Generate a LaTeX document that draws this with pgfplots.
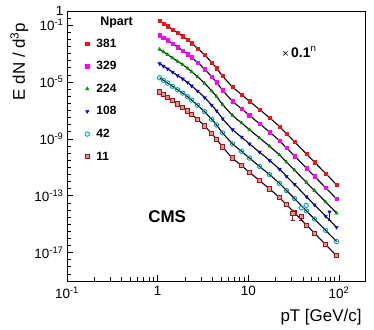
\documentclass[border=0pt]{standalone}
\usepackage{fontspec}
\setmainfont{Liberation Sans}
\usepackage{pgfplots}
\usepackage{pgfplotstable}
\pgfplotsset{compat=1.18}
\usetikzlibrary{calc}

\definecolor{cred}{RGB}{240,20,20}
\definecolor{cmag}{RGB}{255,0,255}
\definecolor{cgreen}{RGB}{0,150,0}
\definecolor{cblue}{RGB}{0,0,240}
\definecolor{ccyan}{RGB}{0,160,170}
\definecolor{cdred}{RGB}{160,20,20}

% charged hadron spectra, scaled by 0.1^n
\pgfplotstableread{
pt    a        b        c        d        e        f
1.05  2.00e-1  2.00e-2  2.00e-3  2.00e-4  2.00e-5  2.00e-6
1.16  1.32e-1  1.32e-2  1.32e-3  1.32e-4  1.32e-5  1.32e-6
1.29  8.51e-2  8.51e-3  8.51e-4  8.51e-5  8.51e-6  8.51e-7
1.46  5.01e-2  5.01e-3  5.01e-4  5.01e-5  5.01e-6  5.01e-7
1.66  2.88e-2  2.88e-3  2.88e-4  2.88e-5  2.88e-6  2.88e-7
1.89  1.66e-2  1.66e-3  1.66e-4  1.66e-5  1.66e-6  1.66e-7
2.14  9.33e-3  9.33e-4  9.33e-5  9.33e-6  9.33e-7  9.33e-8
2.37  5.37e-3  5.37e-4  5.37e-5  5.37e-6  5.37e-7  5.37e-8
2.76  2.34e-3  2.34e-4  2.34e-5  2.34e-6  2.34e-7  2.34e-8
3.30  8.13e-4  8.13e-5  8.13e-6  8.13e-7  8.13e-8  8.13e-9
3.94  2.40e-4  2.40e-5  2.40e-6  2.40e-7  2.40e-8  2.40e-9
4.47  9.55e-5  9.55e-6  9.55e-7  9.55e-8  9.55e-9  9.55e-10
5.21  2.63e-5  2.63e-6  2.63e-7  2.63e-8  2.63e-9  2.63e-10
6.71  4.47e-6  4.47e-7  4.47e-8  4.47e-9  4.47e-10 4.47e-11
8.44  1.32e-6  1.32e-7  1.32e-8  1.32e-9  1.32e-10 1.32e-11
10.3  4.47e-7  4.47e-8  4.47e-9  4.47e-10 4.47e-11 4.47e-12
13.3  1.17e-7  1.17e-8  1.17e-9  1.17e-10 1.17e-11 1.17e-12
17.2  3.02e-8  3.02e-9  3.02e-10 3.02e-11 3.02e-12 3.02e-13
22.1  7.41e-9  7.41e-10 7.41e-11 7.41e-12 7.41e-13 7.41e-14
26.4  2.34e-9  2.34e-10 2.34e-11 2.34e-12 2.34e-13 2.34e-14
32.4  6.31e-10 6.31e-11 6.31e-12 6.31e-13 6.31e-14 6.31e-15
43.9  8.51e-11 8.51e-12 8.51e-13 8.51e-14 8.51e-15 8.51e-16
53.8  2.29e-11 2.29e-12 2.29e-13 2.29e-14 2.29e-15 2.29e-16
71.2  3.72e-12 3.72e-13 3.72e-14 3.72e-15 3.72e-16 3.72e-17
94.1  6.03e-13 6.03e-14 6.03e-15 6.03e-16 6.03e-17 6.03e-18
}\spectra

\begin{document}
\begin{tikzpicture}
\begin{axis}[
    scale only axis,
    width=298bp, height=270bp,
    xmode=log, ymode=log,
    xmin=0.1, xmax=194,
    ymin=1e-19, ymax=1,
    axis line style={line width=0.7pt},
    tick align=inside,
    xtick pos=bottom, ytick pos=left,
    major tick length=6bp, minor tick length=4bp,
    tick style={black, line width=0.7pt},
    xtick={0.1,1,10,100},
    xticklabels={10\textsuperscript{-1},1,10,10\textsuperscript{2}},
    minor xtick={0.2,0.3,0.4,0.5,0.6,0.7,0.8,0.9,2,3,4,5,6,7,8,9,20,30,40,50,60,70,80,90},
    ytick={1,1e-1,1e-5,1e-9,1e-13,1e-17},
    yticklabels={1,10\textsuperscript{-1},10\textsuperscript{-5},10\textsuperscript{-9},10\textsuperscript{-13},10\textsuperscript{-17}},
    minor ytick={3.16e-1,3.16e-2,1e-2,3.16e-3,1e-3,3.16e-4,1e-4,3.16e-5,3.16e-6,1e-6,3.16e-7,1e-7,3.16e-8,1e-8,3.16e-9,3.16e-10,1e-10,3.16e-11,1e-11,3.16e-12,1e-12,3.16e-13,3.16e-14,1e-14,3.16e-15,1e-15,3.16e-16,1e-16,3.16e-17,3.16e-18,1e-18,3.16e-19},
    tick label style={font=\fontsize{13.5}{15}\selectfont},
    xticklabel style={yshift=-2bp},
    xlabel={pT [GeV/c]},
    ylabel={E dN / d\textsuperscript{3}p},
    label style={font=\fontsize{17}{19}\selectfont},
    xlabel style={at={(axis description cs:1,-0.135)}, anchor=east},
    ylabel style={at={(axis description cs:-0.16,0.97)}, anchor=east},
    legend style={at={(axis description cs:0.05,0.913)}, anchor=north west,
        draw=none, fill=none, font=\fontsize{12}{14}\selectfont\bfseries,
        row sep=8.8bp,
        /tikz/every odd column/.append style={column sep=5bp}},
    legend cell align=left,
]
\addplot[only marks, mark=square*, mark size=1.6pt, color=cred]
    table[x=pt, y=a] {\spectra};
\addlegendentry{381}
\addplot[only marks, mark=square*, mark size=1.8pt, color=cmag]
    table[x=pt, y=b] {\spectra};
\addlegendentry{329}
\addplot[only marks, mark=triangle*, mark size=2pt, color=cgreen]
    table[x=pt, y=c] {\spectra};
\addlegendentry{224}
\addplot[only marks, mark=triangle*, mark size=2pt, color=cblue,
    mark options={rotate=180}]
    table[x=pt, y=d] {\spectra};
\addlegendentry{108}
\addplot[only marks, mark=o, mark size=2.2pt, color=ccyan,
    mark options={line width=0.9pt}]
    table[x=pt, y=e] {\spectra};
\addlegendentry{42}
\addplot[only marks, mark=square*, mark size=2.2pt, color=cdred,
    mark options={fill=cdred!45, line width=0.9pt}]
    table[x=pt, y=f] {\spectra};
\addlegendentry{11}

% scattered high-pT points with error bars
\addplot[only marks, mark=square*, mark size=2.2pt, color=cdred,
    mark options={fill=cdred!45, line width=0.9pt}, forget plot,
    error bars/.cd, y dir=both, y explicit, error bar style={line width=0.9pt}]
    coordinates {(31,5.8e-15) -= (0,3.8e-15) (38.4,3.4e-15) -= (0,1.6e-15)};
\addplot[only marks, mark=o, mark size=2.2pt, color=ccyan,
    mark options={line width=0.9pt}, forget plot]
    coordinates {(38.4,1.4e-14) (43.6,2.1e-14)};
\addplot[only marks, mark=triangle*, mark size=2pt, color=cblue,
    mark options={rotate=180}, forget plot,
    error bars/.cd, y dir=both, y explicit, error bar style={line width=0.9pt}]
    coordinates {(78.7,7.4e-15) -= (0,5.4e-15)};

% fits
\addplot[black, line width=1.1pt, smooth, forget plot] table[x=pt, y=a] {\spectra};
\addplot[black, line width=1.1pt, smooth, forget plot] table[x=pt, y=b] {\spectra};
\addplot[black, line width=1.1pt, smooth, forget plot] table[x=pt, y=c] {\spectra};
\addplot[black, line width=1.1pt, smooth, forget plot] table[x=pt, y=d] {\spectra};
\addplot[black, line width=1.1pt, smooth, forget plot] table[x=pt, y=e] {\spectra};
\addplot[black, line width=1.1pt, smooth, forget plot] table[x=pt, y=f] {\spectra};

\node[anchor=west, font=\fontsize{12.5}{14}\selectfont\bfseries]
    at (axis description cs:0.10,0.956) {Npart};
\node[font=\fontsize{14}{16}\selectfont] at (axis description cs:0.78,0.848)
    {{\fontsize{11}{13}\selectfont×}\,\textbf{0.1}\textsuperscript{n}};
\node[font=\fontsize{17}{19}\selectfont\bfseries] at (axis description cs:0.336,0.24) {CMS};
\end{axis}
\pgfresetboundingbox
\path ($(current axis.south west)+(-67bp,-49bp)$) rectangle ($(current axis.north east)+(9bp,11bp)$);
\end{tikzpicture}
\end{document}
